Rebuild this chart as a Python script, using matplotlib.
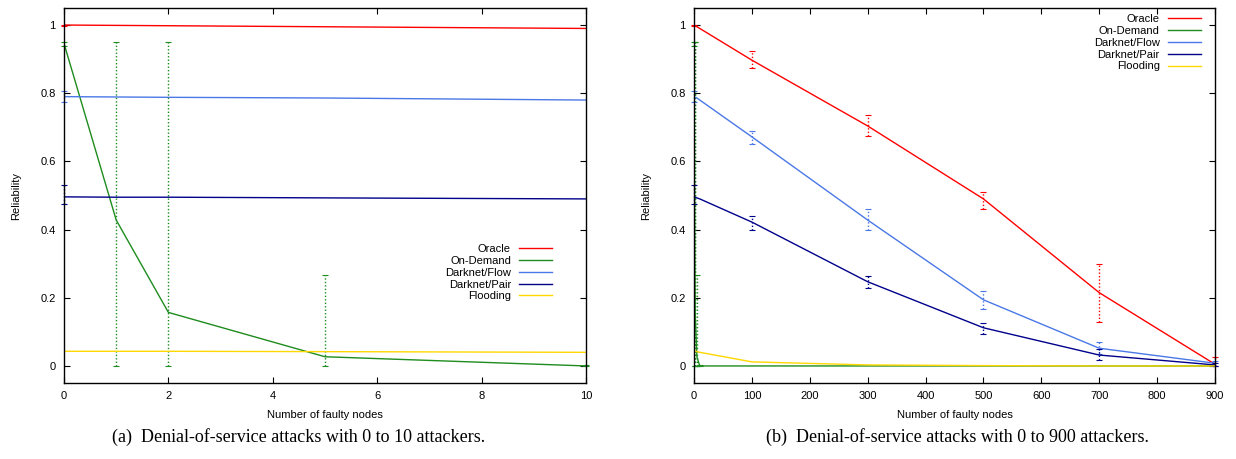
import matplotlib.pyplot as plt

# number of faulty nodes (shared by both panels)
nodes = [0, 1, 2, 5, 10, 100, 300, 500, 700, 900]

oracle = [1.0, 0.999, 0.998, 0.995, 0.99, 0.897, 0.704, 0.49, 0.215, 0.005]
oracle_lo = [0.998, 0.999, 0.998, 0.995, 0.99, 0.875, 0.675, 0.46, 0.128, 0.0]
oracle_hi = [1.0, 0.999, 0.998, 0.995, 0.99, 0.925, 0.735, 0.51, 0.298, 0.025]

on_demand = [0.946, 0.428, 0.157, 0.027, 0.0, 0.0, 0.0, 0.0, 0.0, 0.0]
on_demand_lo = [0.94, 0.0, 0.0, 0.0, 0.0, 0.0, 0.0, 0.0, 0.0, 0.0]
on_demand_hi = [0.951, 0.951, 0.951, 0.267, 0.002, 0.0, 0.0, 0.0, 0.0, 0.0]

flow = [0.79, 0.789, 0.788, 0.786, 0.78, 0.672, 0.428, 0.194, 0.052, 0.008]
flow_lo = [0.774, 0.789, 0.788, 0.786, 0.78, 0.65, 0.40, 0.166, 0.035, 0.0]
flow_hi = [0.808, 0.789, 0.788, 0.786, 0.78, 0.69, 0.46, 0.221, 0.071, 0.015]

pair = [0.496, 0.495, 0.495, 0.493, 0.49, 0.422, 0.247, 0.112, 0.032, 0.003]
pair_lo = [0.475, 0.495, 0.495, 0.493, 0.49, 0.40, 0.23, 0.093, 0.018, 0.0]
pair_hi = [0.531, 0.495, 0.495, 0.493, 0.49, 0.44, 0.265, 0.127, 0.05, 0.01]

flooding = [0.043, 0.043, 0.043, 0.042, 0.04, 0.012, 0.003, 0.001, 0.0, 0.0]

series = [
    ("Oracle", oracle, oracle_lo, oracle_hi, "#ff0000"),
    ("On-Demand", on_demand, on_demand_lo, on_demand_hi, "#1e8c1e"),
    ("Darknet/Flow", flow, flow_lo, flow_hi, "#4a78e6"),
    ("Darknet/Pair", pair, pair_lo, pair_hi, "#00008b"),
    ("Flooding", flooding, flooding, flooding, "#ffd700"),
]

plt.rcParams['font.family'] = ['Liberation Sans', 'DejaVu Sans']

fig = plt.figure(figsize=(12.36, 4.59), dpi=100)
ax_a = fig.add_axes([64 / 1236, 1 - 383 / 459, 522 / 1236, 375 / 459])
ax_b = fig.add_axes([694 / 1236, 1 - 383 / 459, 521 / 1236, 375 / 459])


def draw(ax, xmax, xticks, leg_anchor):
    for name, vals, lo, hi, col in series:
        # only points with a spread get an error bar
        idx = [i for i in range(len(nodes)) if hi[i] - lo[i] > 0]
        if idx:
            xs = [nodes[i] for i in idx]
            ys = [vals[i] for i in idx]
            yerr = [[vals[i] - lo[i] for i in idx], [hi[i] - vals[i] for i in idx]]
            eb = ax.errorbar(xs, ys, yerr=yerr, fmt='none', ecolor=col,
                             elinewidth=1.0, capsize=2, capthick=0.8)
            eb[2][0].set_linestyle((0, (1, 1.5)))
            eb[2][0].set_clip_on(False)
            for cap in eb[1]:
                cap.set_clip_on(False)
        ax.plot(nodes, vals, color=col, lw=1.0, label=name)
    ax.set_xlim(0, xmax)
    ax.set_ylim(-0.05, 1.05)
    ax.set_xticks(xticks)
    ax.set_yticks([0, 0.2, 0.4, 0.6, 0.8, 1.0])
    ax.set_yticklabels(["0", "0.2", "0.4", "0.6", "0.8", "1"])
    ax.tick_params(direction='in', length=4, width=0.8, top=True, right=True,
                   labelsize=8, pad=6)
    for s in ax.spines.values():
        s.set_linewidth(1.0)
    ax.set_xlabel("Number of faulty nodes", fontsize=8, labelpad=6)
    ax.set_ylabel("Reliability", fontsize=8, labelpad=14)
    ax.legend(loc='upper right', bbox_to_anchor=leg_anchor, frameon=False,
              markerfirst=False, fontsize=8, handlelength=3.0,
              handletextpad=0.7, labelspacing=0.16, borderpad=0,
              borderaxespad=0)


draw(ax_a, 10, [0, 2, 4, 6, 8, 10], (0.935, 0.37))
draw(ax_b, 900, range(0, 901, 100), (0.973, 0.983))

fig.text(299 / 1236, 1 - 437 / 459, "(a)  Denial-of-service attacks with 0 to 10 attackers.",
         ha='center', va='center', fontsize=13, family='Liberation Serif')
fig.text(957 / 1236, 1 - 437 / 459, "(b)  Denial-of-service attacks with 0 to 900 attackers.",
         ha='center', va='center', fontsize=13, family='Liberation Serif')

fig.savefig("out.png", dpi=100)
